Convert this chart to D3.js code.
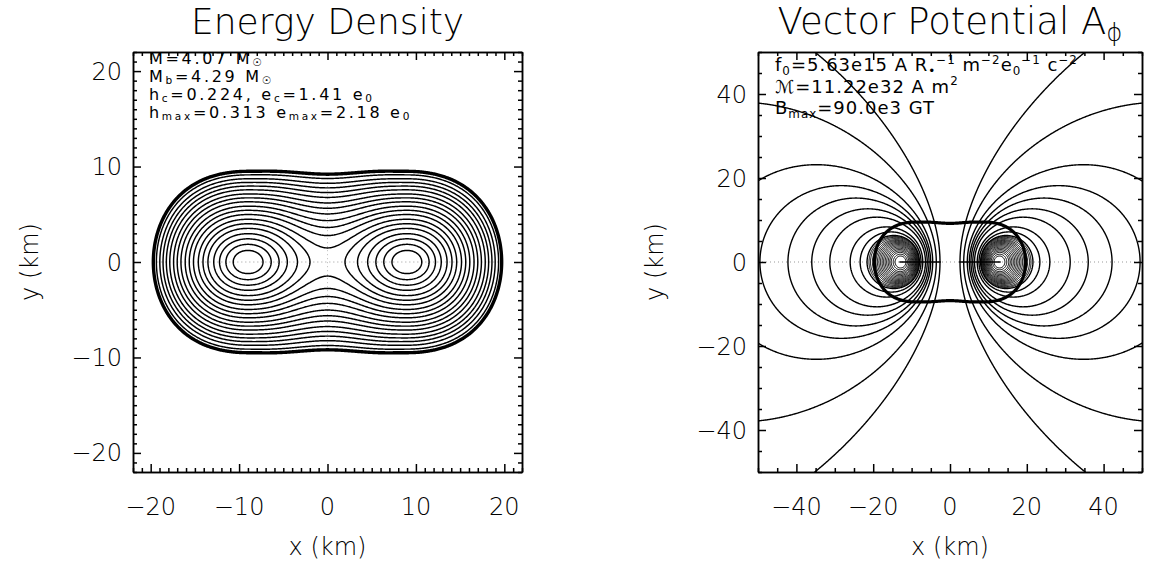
<!DOCTYPE html>
<html><head><meta charset="utf-8">
<script src="https://cdn.jsdelivr.net/npm/d3@7"></script>
<style>
body{margin:0;background:#fff;}
svg{display:block;background:#fff;}
text{font-family:"DejaVu Sans","Inter",sans-serif;font-weight:200;fill:#000;white-space:pre;}
text.note{font-weight:400;}
.ax line,.ax path{stroke:#000;stroke-width:1.5;fill:none;}
</style></head><body>
<svg id="chart" width="1149" height="565"></svg>
<script>
// ================= DATA =================
// --- left panel: energy density, km and units of e0 ---
const edRange = [-22, 22];
const edXTicks = [-20, -10, 0, 10, 20];
const edYTicks = [-20, -10, 0, 10, 20];
const edMinorStep = 1;
const eMax = 2.18, eCentre = 1.41;            // e_max, e_c
const peakX = 9.0;                             // position of the density maxima
const starEquator = 19.7;                      // surface on the x axis
const starHalfHeightPeak = 9.5;                // surface height above the maxima
const starHalfHeightAxis = 9.2;                // surface height on the axis
const peakRadialScale = 13.6;                  // horizontal stretch near the maxima
const profileIndex = 1.3;
const edLevels = [0, 0.11, 0.23, 0.34, 0.45, 0.56, 0.68, 0.79, 0.90, 1.02,
                  1.13, 1.24, 1.36, 1.47, 1.58, 1.70, 1.81, 1.92, 2.03];
// --- right panel: vector potential A_phi ---
const apRange = [-50, 50];
const apXTicks = [-40, -20, 0, 20, 40];
const apYTicks = [-40, -20, 0, 20, 40];
const apMinorStep = 5;
const currentCentre = 10.6, currentWidth = 2.8; // toroidal current: centre and spread (km)
// equatorial radius (km) at which each drawn field line crosses y = 0 outside the O-point
const fieldLineRadii = [14.3, 14.8, 15.3, 15.7, 16.1, 16.5, 16.9, 17.3, 17.7, 18.1,
                        18.5, 18.9, 19.3, 19.7, 20.2, 20.7, 21.1, 21.6, 23.4, 26.0,
                        31.3, 36.0, 42.2, 49.5, 62, 100, 190];
const holeSegment = [2.4, 13.2];
// annotations
const edNotes = [
  [{t:"M=4.07 M"},{t:"\u2609",sub:1}],
  [{t:"M"},{t:"b",sub:1},{t:"=4.29 M"},{t:"\u2609",sub:1}],
  [{t:"h"},{t:"c",sub:1},{t:"=0.224, e"},{t:"c",sub:1},{t:"=1.41 e"},{t:"0",sub:1}],
  [{t:"h"},{t:"max",sub:1},{t:"=0.313 e"},{t:"max",sub:1},{t:"=2.18 e"},{t:"0",sub:1}]
];
const apNotes = [
  [{t:"f"},{t:"0",sub:1},{t:"=5.63e15 A R"},{t:"\u2022",sub:1},{t:"\u22121",sup:1},{t:" m"},{t:"\u22122",sup:1},
   {t:"e"},{t:"0",sub:1},{t:"\u22121",sup:1},{t:" c"},{t:"\u22122",sup:1}],
  [{t:"\u2133=11.22e32 A m"},{t:"2",sup:1}],
  [{t:"B"},{t:"max",sub:1},{t:"=90.0e3 GT"}]
];

// ================= MODELS =================
const P = profileIndex, A = peakX, LAM = peakRadialScale;
const Ds = Math.pow(1 - eCentre / eMax, 1 / P);
const alpha = 1 / (2 * A * LAM), beta = (Ds - alpha * A * A) / Math.pow(A, 4);
const tR = starEquator - A, gamma = (1 - tR / LAM) / (tR * tR);
const H0 = starHalfHeightAxis / Math.sqrt(1 - Ds * Ds);
function energy(x, y) {
  const ax = Math.abs(x);
  let U, H;
  if (ax < A) { const w = A * A - x * x; U = alpha * w + beta * w * w;
    H = starHalfHeightPeak + (H0 - starHalfHeightPeak) * Math.pow(w / (A * A), 2); }
  else { const t = ax - A; U = t / LAM + gamma * t * t; H = starHalfHeightPeak; }
  const D = Math.sqrt(U * U + (y / H) * (y / H));
  return eMax * (1 - Math.pow(D, P));
}
function loopFlux(a, rho, dz) {          // flux function of one circular loop (softened)
  const z2 = dz * dz + 0.8;
  const m = 4 * a * rho / ((a + rho) * (a + rho) + z2);
  let aa = 1, bb = Math.sqrt(1 - m), sum = 0.5 * m, pw = 0.5;
  for (let i = 0; i < 30; i++) {
    const an = (aa + bb) / 2, bn = Math.sqrt(aa * bb), cn = (aa - bb) / 2;
    pw *= 2; sum += pw * cn * cn; aa = an; bb = bn;
    if (cn < 1e-14) break;
  }
  const K = Math.PI / (2 * aa), E = K * (1 - sum);
  return Math.sqrt(a * rho / m) * ((1 - m / 2) * K - E);
}
// toroidal current spread as a gaussian
const loops = [];
for (let i = -4; i <= 4; i++) for (let j = -4; j <= 4; j++) {
  const dr = i * 1.4, dz = j * 1.4, d2 = dr * dr + dz * dz;
  if (d2 <= 6.3 * 6.3 && currentCentre + dr > 0.5)
    loops.push([currentCentre + dr, dz, Math.exp(-d2 / (2 * currentWidth * currentWidth))]);
}
function flux(x, y) {
  const rho = Math.abs(x);
  if (rho < 1e-9) return 0;
  let s = 0;
  for (const [a, z, w] of loops) s += w * loopFlux(a, rho, y - z);
  return s;
}
function grid(fn, x0, x1, y0, y1, n, m) {
  const dx = (x1 - x0) / n, dy = (y1 - y0) / m, v = new Float64Array(n * m);
  for (let j = 0; j < m; j++) for (let i = 0; i < n; i++)
    v[j * n + i] = fn(x0 + (i + 0.5) * dx, y1 - (j + 0.5) * dy);
  return {v, n, m, x0, y1, dx, dy};
}
function mirroredGrid(fn, half, n2) {   // field symmetric in x and y: compute one quadrant
  const d = half / n2, q = new Float64Array(n2 * n2);
  for (let j = 0; j < n2; j++) for (let i = 0; i < n2; i++) q[j * n2 + i] = fn((i + 0.5) * d, (j + 0.5) * d);
  const n = 2 * n2, v = new Float64Array(n * n);
  for (let j = 0; j < n; j++) {
    const qj = j < n2 ? n2 - 1 - j : j - n2;
    for (let i = 0; i < n; i++) { const qi = i < n2 ? n2 - 1 - i : i - n2; v[j * n + i] = q[qj * n2 + qi]; }
  }
  return {v, n, m: n, x0: -half, y1: half, dx: d, dy: d};
}
function contourPaths(g, levels, xs, ys) {
  const cs = d3.contours().size([g.n, g.m]).thresholds(levels)(g.v);
  const proj = d3.geoTransform({point(px, py) {
    this.stream.point(xs(g.x0 + px * g.dx), ys(g.y1 - py * g.dy)); }});
  const path = d3.geoPath(proj);
  return cs.map(c => ({value: c.value, d: path(c)}));
}

// ================= LAYOUT =================
const svg = d3.select("#chart");
const boxL = {x0: 133, x1: 522, y0: 52, y1: 472};
const boxR = {x0: 758, x1: 1142, y0: 52, y1: 472};
const xL = d3.scaleLinear().domain(edRange).range([boxL.x0, boxL.x1]);
const yL = d3.scaleLinear().domain(edRange).range([boxL.y1, boxL.y0]);
const xR = d3.scaleLinear().domain(apRange).range([boxR.x0, boxR.x1]);
const yR = d3.scaleLinear().domain(apRange).range([boxR.y1, boxR.y0]);

const defs = svg.append("defs");
[["clipL", boxL], ["clipR", boxR]].forEach(([id, b]) =>
  defs.append("clipPath").attr("id", id).append("rect")
    .attr("x", b.x0).attr("y", b.y0).attr("width", b.x1 - b.x0).attr("height", b.y1 - b.y0));

function rich(sel, x, y, parts, fs, opts) {
  opts = opts || {};
  const t = sel.append("text").attr("x", x).attr("y", y).attr("font-size", fs);
  if (opts.anchor) t.attr("text-anchor", opts.anchor);
  if (opts.cls) t.attr("class", opts.cls);
  if (opts.ls) t.attr("letter-spacing", opts.ls);
  const subDrop = opts.subDrop != null ? opts.subDrop : 0.2;
  let cur = 0;
  parts.forEach(p => {
    const target = p.sub ? subDrop * fs : p.sup ? -0.4 * fs : 0;
    const ts = t.append("tspan").text(p.t).attr("dy", target - cur);
    if (p.sub || p.sup) ts.attr("font-size", fs * 0.66);
    cur = target;
  });
  return t;
}

function drawAxes(box, xs, ys, xMaj, yMaj, minorStep, range) {
  const g = svg.append("g").attr("class", "ax");
  const minor = d3.range(range[0], range[1] + 1e-9, minorStep).filter(v => !xMaj.includes(v));
  const minorY = d3.range(range[0], range[1] + 1e-9, minorStep).filter(v => !yMaj.includes(v));
  const mk = (gen, sc, vals, len, tr) => g.append("g").attr("transform", tr)
    .call(gen(sc).tickValues(vals).tickSize(-len).tickSizeOuter(0).tickFormat(""));
  mk(d3.axisBottom, xs, xMaj, 8, `translate(0,${box.y1})`);
  mk(d3.axisBottom, xs, minor, 4, `translate(0,${box.y1})`);
  mk(d3.axisTop, xs, xMaj, 8, `translate(0,${box.y0})`);
  mk(d3.axisTop, xs, minor, 4, `translate(0,${box.y0})`);
  mk(d3.axisLeft, ys, yMaj, 8, `translate(${box.x0},0)`);
  mk(d3.axisLeft, ys, minorY, 4, `translate(${box.x0},0)`);
  mk(d3.axisRight, ys, yMaj, 8, `translate(${box.x1},0)`);
  mk(d3.axisRight, ys, minorY, 4, `translate(${box.x1},0)`);
  g.selectAll(".tick text").remove();
  const fmt = d3.format("d");
  xMaj.forEach(v => svg.append("text").attr("x", xs(v)).attr("y", box.y1 + 43)
    .attr("text-anchor", "middle").attr("font-size", 24).text(fmt(v)));
  yMaj.forEach(v => svg.append("text").attr("x", box.x0 - 11).attr("y", ys(v) + 8.5)
    .attr("text-anchor", "end").attr("font-size", 24).text(fmt(v)));
}

// ================= LEFT PANEL =================
const gE = grid(energy, edRange[0], edRange[1], edRange[0], edRange[1], 440, 440);
const left = svg.append("g").attr("clip-path", "url(#clipL)");
left.append("line").attr("x1", xL(-starEquator)).attr("x2", xL(starEquator))
  .attr("y1", yL(0)).attr("y2", yL(0)).attr("stroke", "#999").attr("stroke-width", 1).attr("stroke-dasharray", "1 3");
left.append("line").attr("x1", xL(0)).attr("x2", xL(0))
  .attr("y1", yL(starHalfHeightAxis)).attr("y2", yL(-starHalfHeightAxis)).attr("stroke", "#bbb").attr("stroke-width", 1).attr("stroke-dasharray", "1 3");
contourPaths(gE, edLevels, xL, yL).forEach(c => {
  left.append("path").attr("d", c.d).attr("fill", "none").attr("stroke", "#000")
    .attr("stroke-width", c.value === edLevels[0] ? 3.4 : 1.45).attr("stroke-linejoin", "round");
});
drawAxes(boxL, xL, yL, edXTicks, edYTicks, edMinorStep, edRange);
svg.append("text").attr("x", (boxL.x0 + boxL.x1) / 2).attr("y", 34).attr("text-anchor", "middle")
  .attr("font-size", 36).text("Energy Density");
svg.append("text").attr("x", (boxL.x0 + boxL.x1) / 2).attr("y", 555).attr("text-anchor", "middle")
  .attr("font-size", 24).text("x (km)");
svg.append("text").attr("transform", `translate(38,${(boxL.y0 + boxL.y1) / 2}) rotate(-90)`)
  .attr("text-anchor", "middle").attr("font-size", 24).text("y (km)");
edNotes.forEach((parts, i) => rich(svg, 149, 64 + i * 18, parts, 16, {cls: "note", ls: 2.7, subDrop: 0.14}));

// ================= RIGHT PANEL =================
const gP = mirroredGrid(flux, 52, 260);
const psiLevels = fieldLineRadii.map(r => flux(r, 0));
const right = svg.append("g").attr("clip-path", "url(#clipR)");
right.append("line").attr("x1", xR(apRange[0])).attr("x2", xR(apRange[1]))
  .attr("y1", yR(0)).attr("y2", yR(0)).attr("stroke", "#999").attr("stroke-width", 1).attr("stroke-dasharray", "1 3");
[-1, 1].forEach(s => right.append("line").attr("x1", xR(s * holeSegment[0])).attr("x2", xR(s * holeSegment[1]))
  .attr("y1", yR(0)).attr("y2", yR(0)).attr("stroke", "#000").attr("stroke-width", 1.6));
contourPaths(gP, psiLevels, xR, yR).forEach(c => {
  right.append("path").attr("d", c.d).attr("fill", "none").attr("stroke", "#000")
    .attr("stroke-width", c.value > psiLevels[17] ? 1.0 : 1.4).attr("stroke-linejoin", "round");
});
contourPaths(gE, [edLevels[0]], xR, yR).forEach(c => {
  right.append("path").attr("d", c.d).attr("fill", "none").attr("stroke", "#000")
    .attr("stroke-width", 3.2).attr("stroke-linejoin", "round");
});
drawAxes(boxR, xR, yR, apXTicks, apYTicks, apMinorStep, apRange);
rich(svg, (boxR.x0 + boxR.x1) / 2, 34, [{t:"Vector Potential A"},{t:"\u03D5",sub:1}], 37, {anchor: "middle"});
svg.append("text").attr("x", (boxR.x0 + boxR.x1) / 2).attr("y", 555).attr("text-anchor", "middle")
  .attr("font-size", 24).text("x (km)");
svg.append("text").attr("transform", `translate(663,${(boxR.y0 + boxR.y1) / 2}) rotate(-90)`)
  .attr("text-anchor", "middle").attr("font-size", 24).text("y (km)");
apNotes.forEach((parts, i) => rich(svg, 775, 71 + i * 21.5, parts, 18, {cls: "note", ls: 1.0}));
</script>
</body></html>
